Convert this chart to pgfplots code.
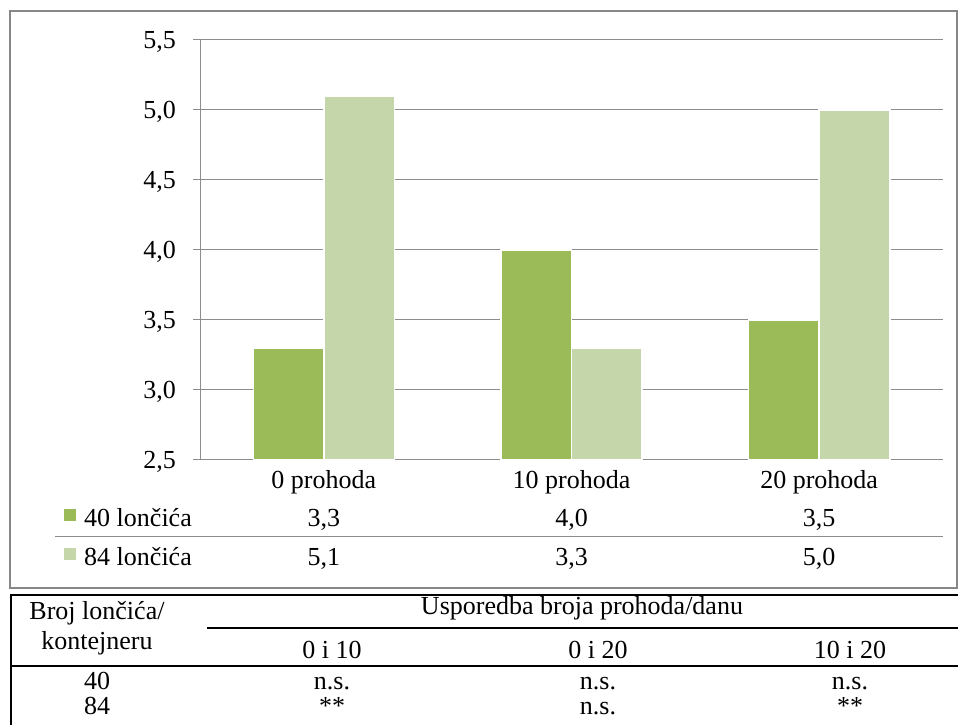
\documentclass[border=0pt]{standalone}
\usepackage{pgfplots}
\pgfplotsset{compat=1.18}
\usepackage{pgfplotstable}
\usepackage{fontspec}
\setmainfont{Liberation Serif}

\definecolor{darkbar}{HTML}{9BBB59}
\definecolor{lightbar}{HTML}{C5D6AB}
\definecolor{framec}{HTML}{878787}
\definecolor{gridc}{HTML}{8C8C8C}

% mean values per treatment (0, 10, 20 prohoda)
\pgfplotstableread{
x a b
0 3.3 5.1
1 4.0 3.3
2 3.5 5.0
}\data

\newcommand{\chartfont}{\fontsize{26}{38.5}\selectfont}

\begin{document}
\begin{tikzpicture}
\path[use as bounding box] (0pt,0pt) rectangle (958pt,725pt);
\draw[framec, line width=2.2pt] (10pt,714pt) rectangle (957pt,137pt);

\begin{axis}[
    at={(200pt,265pt)}, anchor=south west,
    scale only axis, width=743pt, height=420pt,
    ymin=2.5, ymax=5.5, ytick={2.5,3,...,5.5},
    xmin=-0.5, xmax=2.5, xtick={0,1,2},
    axis x line*=bottom, axis y line*=left,
    axis line style={gridc, line width=1pt, -},
    ymajorgrids, grid style={gridc, line width=1pt},
    xtick style={draw=none},
    ytick style={gridc, line width=1pt},
    tick align=outside, major tick length=7pt,
    /pgf/number format/assume math mode=true,
    yticklabel style={/pgf/number format/use comma, /pgf/number format/fixed,
      /pgf/number format/fixed zerofill, /pgf/number format/precision=1,
      font=\chartfont, inner sep=0pt, xshift=-17pt, yshift=-2pt},
    xticklabel style={font=\chartfont, align=center, anchor=north, inner sep=0pt, yshift=-3pt},
    xticklabel={%
      \pgfplotstablegetelem{\ticknum}{a}\of\data\global\let\va\pgfplotsretval
      \pgfplotstablegetelem{\ticknum}{b}\of\data\global\let\vb\pgfplotsretval
      \pgfmathparse{int(10*\ticknum)}\pgfmathresult\ prohoda\\
      \pgfmathprintnumber[fixed,fixed zerofill,precision=1,use comma]{\va}\\
      \pgfmathprintnumber[fixed,fixed zerofill,precision=1,use comma]{\vb}},
    ybar=0pt, bar width=0.285,
    legend image code/.code={\fill[#1, draw=none] (0pt,-1pt) rectangle (12pt,11pt);},
    legend style={at={(axis description cs:-0.183,-0.113)}, anchor=north west,
      draw=none, fill=none, font=\chartfont, row sep=14pt, inner sep=0pt,
      nodes={inner sep=0pt, text height=19pt, text depth=6pt},
      cells={anchor=west}},
    legend cell align=left,
]
\addplot[fill=darkbar, draw=white, line width=1.5pt] table[x=x, y=a] {\data};
\addplot[fill=lightbar, draw=white, line width=1.5pt] table[x=x, y=b] {\data};
\legend{\hspace{8pt}40 lončića, \hspace{8pt}84 lončića}
\end{axis}

\draw[gridc, line width=1pt] (55pt,188pt) -- (943pt,188pt);

% comparison table below the chart
\draw[black, line width=2.5pt] (11pt,130pt) -- (958pt,130pt);
\draw[black, line width=2pt] (11pt,131pt) -- (11pt,0pt);
\draw[black, line width=2pt] (207pt,97pt) -- (958pt,97pt);
\draw[black, line width=2pt] (11pt,59pt) -- (958pt,59pt);
\begin{scope}[every node/.style={font=\chartfont, anchor=base, inner sep=0pt}]
\node at (97pt,105pt) {Broj lončića/};
\node at (97pt,75pt) {kontejneru};
\node at (582pt,110pt) {Usporedba broja prohoda/danu};
\node at (332pt,66pt) {0 i 10};
\node at (598pt,66pt) {0 i 20};
\node at (850pt,66pt) {10 i 20};
\node at (97pt,35pt) {40};
\node at (332pt,35pt) {n.s.};
\node at (598pt,35pt) {n.s.};
\node at (850pt,35pt) {n.s.};
\node at (97pt,10pt) {84};
\node at (332pt,10pt) {**};
\node at (598pt,10pt) {n.s.};
\node at (850pt,10pt) {**};
\end{scope}
\end{tikzpicture}
\end{document}
